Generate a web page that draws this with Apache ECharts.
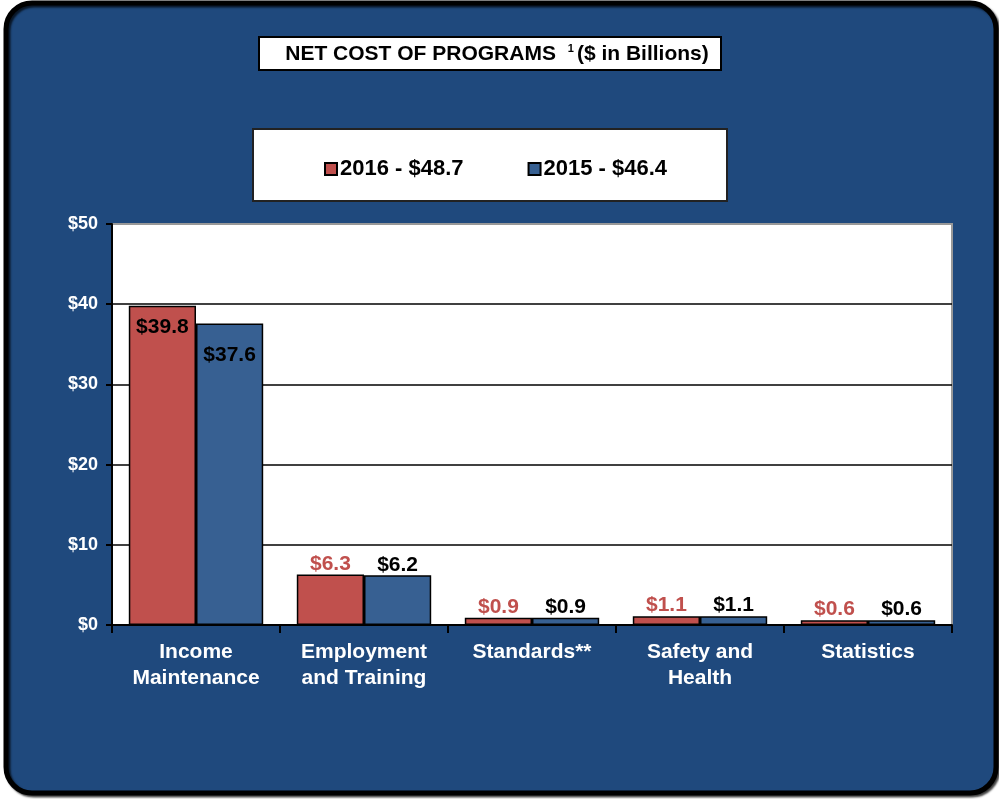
<!DOCTYPE html>
<html><head><meta charset="utf-8">
<script src="https://cdn.jsdelivr.net/npm/echarts@6/dist/echarts.min.js"></script>
<style>html,body{margin:0;padding:0;background:#fff}#c{width:999px;height:799px}</style>
</head><body><div id="c"></div>
<script>
var categories = ['Income\nMaintenance', 'Employment\nand Training', 'Standards**', 'Safety and\nHealth', 'Statistics'];
var values2016 = [39.8, 6.3, 0.9, 1.1, 0.6];
var values2015 = [37.6, 6.2, 0.9, 1.1, 0.6];
var seriesNames = ['2016 - $48.7', '2015 - $46.4'];
var yTicks = [0, 10, 20, 30, 40, 50];

var RED = '#C0504D', BLUE = '#376092', PANEL = '#1F497D';
var FONT = 'Liberation Sans, Arial, sans-serif';

function makeData(vals, seriesIdx) {
  return vals.map(function (v, i) {
    var d = { value: v };
    if (i === 0) {
      d.label = { position: 'insideTop', distance: seriesIdx === 0 ? 11 : 21, color: '#000' };
    }
    return d;
  });
}

var chart = echarts.init(document.getElementById('c'), null, { renderer: 'canvas' });
chart.setOption({
  backgroundColor: '#fff',
  animation: false,
  textStyle: { fontFamily: FONT },
  graphic: [
    { type: 'rect', z: -10, shape: { x: 6, y: 3, width: 990, height: 790, r: 26 },
      style: { fill: PANEL, stroke: '#000', lineWidth: 5, shadowColor: 'rgba(0,0,0,0.7)', shadowBlur: 2, shadowOffsetX: 2, shadowOffsetY: 2 } },
    { type: 'rect', z: -5, shape: { x: 259, y: 37, width: 462, height: 33 },
      style: { fill: '#fff', stroke: '#000', lineWidth: 2 } },
    { type: 'text', z: 5, x: 497, y: 54,
      style: { text: '{t|NET COST OF PROGRAMS }{s|1}{t|($ in Billions)}', align: 'center', verticalAlign: 'middle',
        rich: { t: { fontFamily: FONT, fontWeight: 'bold', fontSize: 21, fill: '#000' },
                s: { fontFamily: FONT, fontWeight: 'bold', fontSize: 11, fill: '#000', verticalAlign: 'top', padding: [0, 3, 10, 6] } } } },
    { type: 'rect', z: -5, shape: { x: 253, y: 129, width: 474, height: 72 },
      style: { fill: '#fff', stroke: '#222', lineWidth: 2 } }
  ],
  legend: {
    left: 319, top: 153,
    itemWidth: 12, itemHeight: 12, itemGap: 64,
    icon: 'rect',
    textStyle: { fontFamily: FONT, fontWeight: 'bold', fontSize: 22, color: '#000', padding: [0, 0, 0, -2] },
    data: seriesNames
  },
  grid: { left: 112, right: 47, top: 224, bottom: 174, show: true, backgroundColor: '#fff', borderColor: '#999', borderWidth: 2 },
  xAxis: {
    type: 'category', data: categories,
    axisLine: { lineStyle: { color: '#000', width: 2 } },
    axisTick: { show: true, length: 8, lineStyle: { color: '#000', width: 2 } },
    axisLabel: { color: '#fff', fontFamily: FONT, fontWeight: 'bold', fontSize: 21, lineHeight: 26, margin: 14, interval: 0 }
  },
  yAxis: {
    type: 'value', min: yTicks[0], max: yTicks[yTicks.length - 1], interval: 10,
    axisLine: { show: true, lineStyle: { color: '#000', width: 2 } },
    axisTick: { show: true, length: 6, lineStyle: { color: '#000', width: 2 } },
    axisLabel: { color: '#fff', fontFamily: FONT, fontWeight: 'bold', fontSize: 18, margin: 14, formatter: function (v) { return '$' + v; } },
    splitLine: { lineStyle: { color: ['#000', '#000', '#000', '#000', '#000', '#999'], width: 1.5 } }
  },
  series: [
    { name: seriesNames[0], type: 'bar', data: makeData(values2016, 0), barGap: '0%', barCategoryGap: '20%',
      itemStyle: { color: RED, borderColor: '#000', borderWidth: 1.5 },
      label: { show: true, position: 'top', distance: 0, color: RED, fontFamily: FONT, fontWeight: 'bold', fontSize: 21,
        formatter: function (p) { return '$' + p.value.toFixed(1); } } },
    { name: seriesNames[1], type: 'bar', data: makeData(values2015, 1), barGap: '0%', barCategoryGap: '20%',
      itemStyle: { color: BLUE, borderColor: '#000', borderWidth: 1.5 },
      label: { show: true, position: 'top', distance: 0, color: '#000', fontFamily: FONT, fontWeight: 'bold', fontSize: 21,
        formatter: function (p) { return '$' + p.value.toFixed(1); } } }
  ]
});
</script></body></html>
